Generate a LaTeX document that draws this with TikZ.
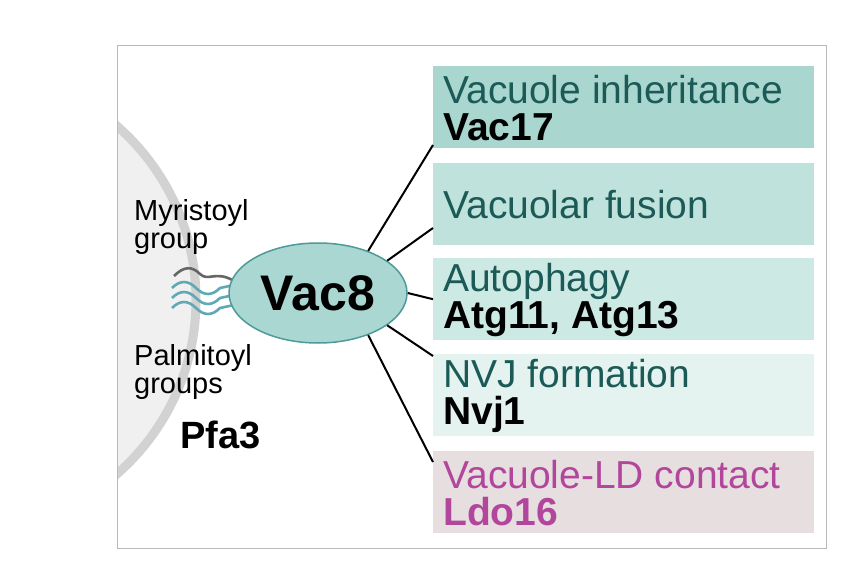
\documentclass[tikz,border=0pt]{standalone}
\usepackage{fontspec}
\setmainfont{Liberation Sans}
\usetikzlibrary{shapes.geometric}
\begin{document}
\begin{tikzpicture}[x=1pt,y=-1pt,
  box/.style={draw=none,minimum width=381pt,minimum height=82pt,anchor=north west,inner sep=0pt},
  lab/.style={anchor=west,align=left,font=\fontsize{39}{37}\selectfont,inner sep=0pt},
  conn/.style={line width=2pt,black},
  wav/.style={line width=2.6pt,color=#1}]
\definecolor{teal1}{HTML}{A9D6CE}
\definecolor{teal2}{HTML}{C0E2DC}
\definecolor{teal3}{HTML}{CDE9E4}
\definecolor{teal4}{HTML}{E4F3F0}
\definecolor{pink1}{HTML}{E6DEDF}
\definecolor{tealtxt}{HTML}{1B5A56}
\definecolor{pinktxt}{HTML}{B2469C}
\definecolor{ellfill}{HTML}{AAD7D1}
\definecolor{elldraw}{HTML}{4E9A98}
\definecolor{wblue}{HTML}{5FA9B5}
\useasboundingbox (0,0) rectangle (848,583);
\fill[white] (0,0) rectangle (848,583);
\begin{scope}
\clip (117,46) rectangle (826,548);
\fill[gray!12] (-35,300) circle (235);
\draw[gray!35,line width=9pt] (-35,300) circle (231);
\end{scope}
\draw[gray!55,line width=1pt] (117,46) rectangle (826,548);
\node[box,fill=teal1] (b1) at (433,66) {};
\node[box,fill=teal2] (b2) at (433,163) {};
\node[box,fill=teal3] (b3) at (433,258) {};
\node[box,fill=teal4] (b4) at (433,354) {};
\node[box,fill=pink1] (b5) at (433,451) {};
\node[lab] (t1) at (443,108) {\textcolor{tealtxt}{Vacuole inheritance}\\\textbf{Vac17}};
\node[lab] (t2) at (443,205) {\textcolor{tealtxt}{Vacuolar fusion}};
\node[lab] (t3) at (443,300) {\textcolor{tealtxt}{Autophagy}\\\textbf{Atg11, Atg13}};
\node[lab] (t4) at (443,396) {\textcolor{tealtxt}{NVJ formation}\\\textbf{Nvj1}};
\node[lab] (t5) at (443,493) {\textcolor{pinktxt}{Vacuole-LD contact}\\\textcolor{pinktxt}{\textbf{Ldo16}}};
% wavy tails
\draw[wav=gray!80!black] (174,276) .. controls (184,266) and (192,266) .. (200,274) .. controls (208,282) and (216,270) .. (234,281);
\foreach \y in {288,298,308}{
\draw[wav=wblue] (172,\y) .. controls (180,\y-8) and (188,\y-8) .. (196,\y) .. controls (204,\y+8) and (212,\y+8) .. (220,\y) -- (234,\y-3);
}
\node[ellipse,draw=elldraw,fill=ellfill,line width=1.5pt,minimum width=178pt,minimum height=100pt,inner sep=0pt,font=\fontsize{50}{50}\selectfont\bfseries] (v) at (318,293) {Vac8};
\coordinate (e1) at (433,145);
\coordinate (e2) at (433,228);
\coordinate (e4) at (433,356);
\coordinate (e5) at (433,462);
\draw[conn] (v.40) -- (e1);
\draw[conn] (v.25) -- (e2);
\draw[conn] (v.east) -- (b3.west);
\draw[conn] (v.-25) -- (e4);
\draw[conn] (v.-40) -- (e5);
\node[anchor=west,align=left,inner sep=0pt,font=\fontsize{29}{28}\selectfont] (my) at (134,227) {Myristoyl\\group};
\node[anchor=west,align=left,inner sep=0pt,font=\fontsize{29}{28}\selectfont] (pa) at (134,372) {Palmitoyl\\groups};
\node[anchor=west,inner sep=0pt,font=\fontsize{38}{38}\selectfont\bfseries] (pf) at (180,435) {Pfa3};
\end{tikzpicture}
\end{document}
